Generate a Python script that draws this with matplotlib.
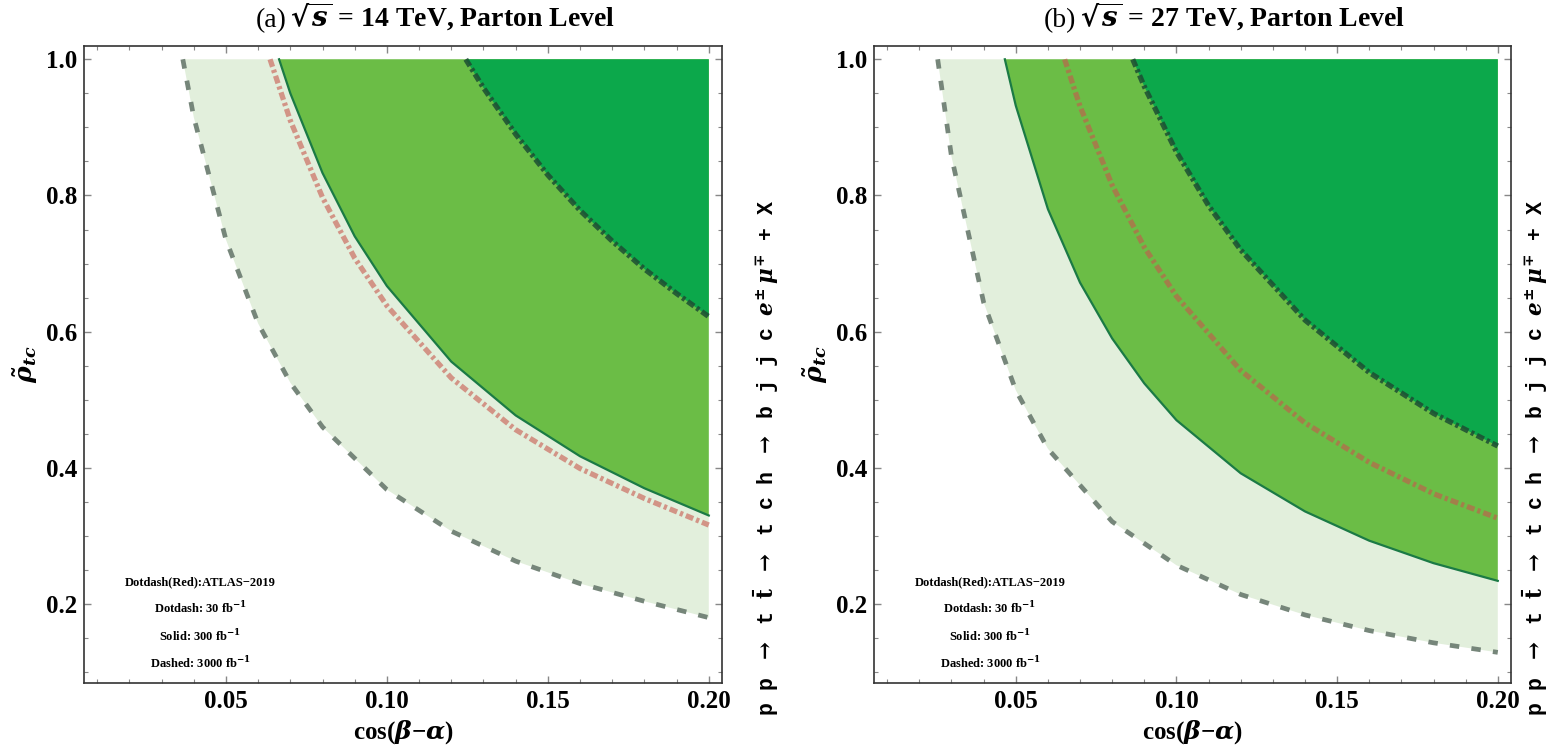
import matplotlib
matplotlib.use("Agg")
import matplotlib.pyplot as plt
import numpy as np

# ---------------- data ----------------
# panel (a) sqrt(s)=14 TeV
a_dash_x = [0.0366, 0.04, 0.05, 0.06, 0.07, 0.08, 0.10, 0.12, 0.14, 0.16, 0.18, 0.20]
a_dash_y = [1.00, 0.915, 0.735, 0.612, 0.525, 0.460, 0.368, 0.307, 0.263, 0.230, 0.204, 0.180]
a_solid_x = [0.0665, 0.07, 0.08, 0.09, 0.10, 0.12, 0.14, 0.16, 0.18, 0.20]
a_solid_y = [1.00, 0.950, 0.833, 0.740, 0.667, 0.556, 0.477, 0.417, 0.370, 0.330]
a_red_x = [0.0637, 0.07, 0.08, 0.09, 0.10, 0.12, 0.14, 0.16, 0.18, 0.20]
a_red_y = [1.00, 0.910, 0.797, 0.708, 0.638, 0.532, 0.456, 0.399, 0.355, 0.316]
a_dd_x = [0.1245, 0.13, 0.14, 0.15, 0.16, 0.17, 0.18, 0.19, 0.20]
a_dd_y = [1.00, 0.958, 0.890, 0.830, 0.778, 0.733, 0.692, 0.656, 0.622]

# panel (b) sqrt(s)=27 TeV
b_dash_x = [0.0257, 0.03, 0.04, 0.05, 0.06, 0.08, 0.10, 0.12, 0.14, 0.16, 0.18, 0.20]
b_dash_y = [1.00, 0.857, 0.643, 0.514, 0.428, 0.321, 0.257, 0.214, 0.184, 0.161, 0.143, 0.129]
b_solid_x = [0.0466, 0.05, 0.06, 0.07, 0.08, 0.09, 0.10, 0.12, 0.14, 0.16, 0.18, 0.20]
b_solid_y = [1.00, 0.932, 0.780, 0.672, 0.590, 0.524, 0.470, 0.392, 0.336, 0.293, 0.260, 0.234]
b_red_x = [0.0652, 0.07, 0.08, 0.09, 0.10, 0.12, 0.14, 0.16, 0.18, 0.20]
b_red_y = [1.00, 0.931, 0.815, 0.724, 0.652, 0.543, 0.466, 0.408, 0.362, 0.326]
b_dd_x = [0.0864, 0.09, 0.10, 0.11, 0.12, 0.14, 0.16, 0.18, 0.20]
b_dd_y = [1.00, 0.960, 0.864, 0.785, 0.720, 0.617, 0.540, 0.480, 0.432]

title_tags = ["(a)", "(b)"]
title_texts = [r"$\sqrt{s}$ = 14 TeV, Parton Level",
               r"$\sqrt{s}$ = 27 TeV, Parton Level"]
legend_lines = ["Dotdash(Red):ATLAS\u22122019",
                r"Dotdash: 30 fb$^{-1}$",
                r"Solid: 300 fb$^{-1}$",
                r"Dashed: 3000 fb$^{-1}$"]
legend_y = [0.232, 0.194, 0.153, 0.113]
xticks = [0.05, 0.10, 0.15, 0.20]
yticks = [0.2, 0.4, 0.6, 0.8, 1.0]
process = r"p p $\rightarrow$ t $\bar{\mathbf{t}}$ $\rightarrow$ t c h $\rightarrow$ b j j c $e^{\pm}\,\mu^{\mp}$ + X"
xlabel = "cos($\\beta$\u2212$\\alpha$)"
ylabel = r"$\tilde{\rho}_{tc}$"

# ---------------- style ----------------
plt.rcParams['font.family'] = ['Liberation Serif', 'DejaVu Serif']
plt.rcParams['mathtext.fontset'] = 'dejavuserif'
plt.rcParams['font.weight'] = 'bold'

C_LIGHT = '#e2efdc'
C_MED = '#6bbd46'
C_DARK = '#0ca84b'
XMAX_FILL = 0.20
YTOP = 1.0

fig = plt.figure(figsize=(15.47, 7.48), dpi=100)
axes = [fig.add_axes([0.0543, 0.0869, 0.4124, 0.8516]),
        fig.add_axes([0.5650, 0.0869, 0.4117, 0.8516])]
proc_pos = [(0.495, 0.388), (0.992, 0.388)]

panels = [
    (a_dash_x, a_dash_y, a_solid_x, a_solid_y, a_red_x, a_red_y, a_dd_x, a_dd_y),
    (b_dash_x, b_dash_y, b_solid_x, b_solid_y, b_red_x, b_red_y, b_dd_x, b_dd_y),
]

def fill_region(ax, xs, ys, color, z):
    px = list(xs) + [XMAX_FILL, XMAX_FILL]
    py = list(ys) + [YTOP, YTOP]
    ax.fill(px, py, color=color, lw=0, zorder=z)

for i, ax in enumerate(axes):
    dx, dy, sx, sy, rx, ry, ddx, ddy = panels[i]
    fill_region(ax, dx, dy, C_LIGHT, 1)
    fill_region(ax, sx, sy, C_MED, 2)
    fill_region(ax, ddx, ddy, C_DARK, 3)
    ax.plot(dx, dy, color='#76867a', lw=3.4, ls=(0, (2.0, 2.6)), zorder=6,
            solid_capstyle='butt', dash_capstyle='butt')
    ax.plot(sx, sy, color='#1b7a45', lw=1.6, zorder=5)
    ax.plot(rx, ry, color='#c8574d', alpha=0.6, lw=3.8, ls=(0, (1.5, 0.6, 0.6, 0.6)), zorder=5)
    ax.plot(ddx, ddy, color='#1d4d33', alpha=0.85, lw=3.8, ls=(0, (1.5, 0.6, 0.6, 0.6)), zorder=5)

    ax.set_xlim(0.0059, 0.2041)
    ax.set_ylim(0.084, 1.0195)
    ax.set_xticks(xticks)
    ax.set_xticklabels([f"{v:.2f}" for v in xticks])
    ax.set_yticks(yticks)
    ax.set_yticklabels([f"{v:.1f}" for v in yticks])
    ax.set_xticks(np.arange(0.01, 0.2001, 0.01), minor=True)
    ax.set_yticks(np.arange(0.1, 1.001, 0.05), minor=True)
    ax.tick_params(which='both', direction='in', top=True, right=True,
                   color='#888888', labelsize=18, pad=5)
    ax.tick_params(which='major', length=5, width=1)
    ax.tick_params(which='minor', length=3, width=0.8)
    for lab in ax.get_xticklabels() + ax.get_yticklabels():
        lab.set_fontweight('bold')
    for sp in ax.spines.values():
        sp.set_color('#333333')
        sp.set_linewidth(1.2)

    # title: "(a)" in regular weight, rest bold
    ax.text(0.318, 1.02, title_tags[i], transform=ax.transAxes, ha='right',
            va='bottom', fontsize=20, fontweight='normal')
    ax.text(0.323, 1.02, title_texts[i], transform=ax.transAxes, ha='left',
            va='bottom', fontsize=20, fontweight='bold')

    ax.set_xlabel(xlabel, fontsize=18, fontweight='bold', labelpad=4)
    ax.set_ylabel(ylabel, fontsize=18, labelpad=4)
    x0, x1 = ax.get_xlim()
    for t, yy in zip(legend_lines, legend_y):
        ax.text(x0 + 0.182 * (x1 - x0), yy, t, fontsize=9, fontweight='bold',
                ha='center', va='center', zorder=7)
    fig.text(proc_pos[i][0], proc_pos[i][1], process, rotation=90,
             ha='center', va='center', fontsize=15.5, fontweight='bold',
             family=['Liberation Mono', 'DejaVu Sans Mono'])

fig.savefig("out.png", dpi=100)
